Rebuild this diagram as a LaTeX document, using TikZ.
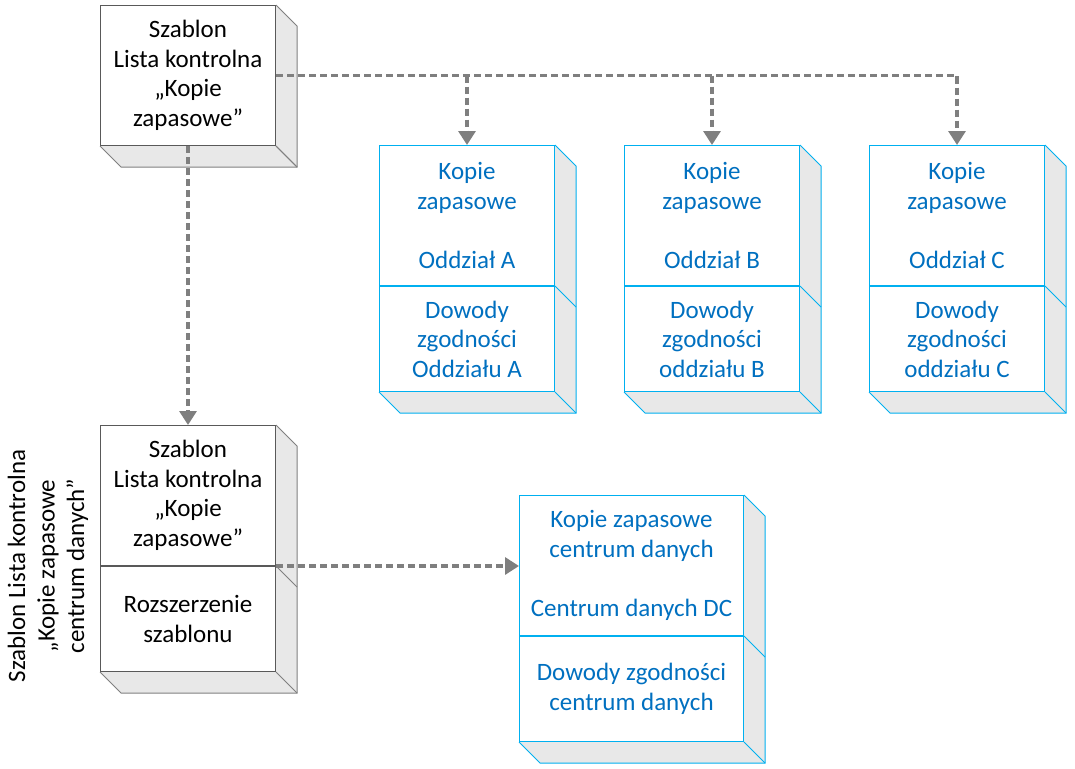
\documentclass[tikz,border=0pt]{standalone}
\usepackage{fontspec}
\setmainfont{Carlito}
\usetikzlibrary{arrows.meta}
\definecolor{txtblue}{HTML}{0070C0}
\definecolor{brdblue}{HTML}{00B0F0}
\definecolor{sidegray}{HTML}{E8E8E8}
\definecolor{frontgray}{HTML}{595959}
\definecolor{edgegray}{HTML}{808080}
\definecolor{conngray}{HTML}{7F7F7F}
\tikzset{
  face/.style={draw, fill=white, inner sep=0pt, align=center, line width=1pt,
    font=\fontsize{25}{29.5}\selectfont, anchor=north west},
  gface/.style={face, draw=frontgray, text=black},
  bface/.style={face, draw=brdblue, text=txtblue},
  conn/.style={draw=conngray, line width=3.2pt, dash pattern=on 7pt off 4pt},
  arr/.style={conn, -{Triangle[length=14pt,width=17pt]}},
}
\newcommand\sideface[3]{%
  \fill[sidegray] (#1.north east) -- ([shift={(21,21)}]#1.north east) -- ([shift={(21,21)}]#2.south east) -- ([shift={(21,21)}]#2.south west) -- (#2.south west) -- (#2.south east) -- cycle;
  \draw[#3, line width=1pt] (#1.north east) -- ([shift={(21,21)}]#1.north east) -- ([shift={(21,21)}]#2.south east) -- ([shift={(21,21)}]#2.south west) -- (#2.south west);
  \draw[#3, line width=1pt] (#2.south east) -- ([shift={(21,21)}]#2.south east);
  \draw[#3, line width=1pt] (#1.south east) -- ([shift={(21,21)}]#1.south east);
}
\begin{document}
\begin{tikzpicture}[x=1pt,y=-1pt]
\useasboundingbox (0,0) rectangle (1075,768);
% top-left template
\node[gface, minimum width=175pt, minimum height=140pt] (tpl) at (100,5)
  {Szablon\\Lista kontrolna\\„Kopie\\zapasowe”};
\sideface{tpl}{tpl}{edgegray}
% branch boxes
\node[bface, minimum width=175pt, minimum height=140pt] (aT) at (379,145)
  {Kopie\\zapasowe\\~\\Oddział A};
\node[bface, minimum width=175pt, minimum height=105pt] (aB) at (aT.south west)
  {Dowody\\zgodności\\Oddziału A};
\sideface{aT}{aB}{brdblue}
\node[bface, minimum width=175pt, minimum height=140pt] (bT) at (624,145)
  {Kopie\\zapasowe\\~\\Oddział B};
\node[bface, minimum width=175pt, minimum height=105pt] (bB) at (bT.south west)
  {Dowody\\zgodności\\oddziału B};
\sideface{bT}{bB}{brdblue}
\node[bface, minimum width=175pt, minimum height=140pt] (cT) at (869,145)
  {Kopie\\zapasowe\\~\\Oddział C};
\node[bface, minimum width=175pt, minimum height=105pt] (cB) at (cT.south west)
  {Dowody\\zgodności\\oddziału C};
\sideface{cT}{cB}{brdblue}
% data-centre template
\node[gface, minimum width=175pt, minimum height=140pt] (lT) at (100,425)
  {Szablon\\Lista kontrolna\\„Kopie\\zapasowe”};
\node[gface, minimum width=175pt, minimum height=105pt] (lB) at (lT.south west)
  {Rozszerzenie\\szablonu};
\sideface{lT}{lB}{edgegray}
% data-centre box
\node[bface, minimum width=224pt, minimum height=140pt] (dT) at (519,495)
  {Kopie zapasowe\\centrum danych\\~\\Centrum danych DC};
\node[bface, minimum width=224pt, minimum height=105pt] (dB) at (dT.south west)
  {Dowody zgodności\\centrum danych};
\sideface{dT}{dB}{brdblue}
% side label
\node[rotate=90, align=center, font=\fontsize{25}{29.5}\selectfont, inner sep=0pt] (lbl) at (48,566)
  {Szablon Lista kontrolna\\„Kopie zapasowe\\centrum danych”};
% connectors
\draw[arr] (tpl.east) -| (cT.north);
\draw[arr] (tpl.east -| aT.north) -- (aT.north);
\draw[arr] (tpl.east -| bT.north) -- (bT.north);
\draw[arr] (tpl.south) -- (lT.north);
\draw[arr] (lT.south east) -- (lT.south east -| dT.west);
\end{tikzpicture}
\end{document}
